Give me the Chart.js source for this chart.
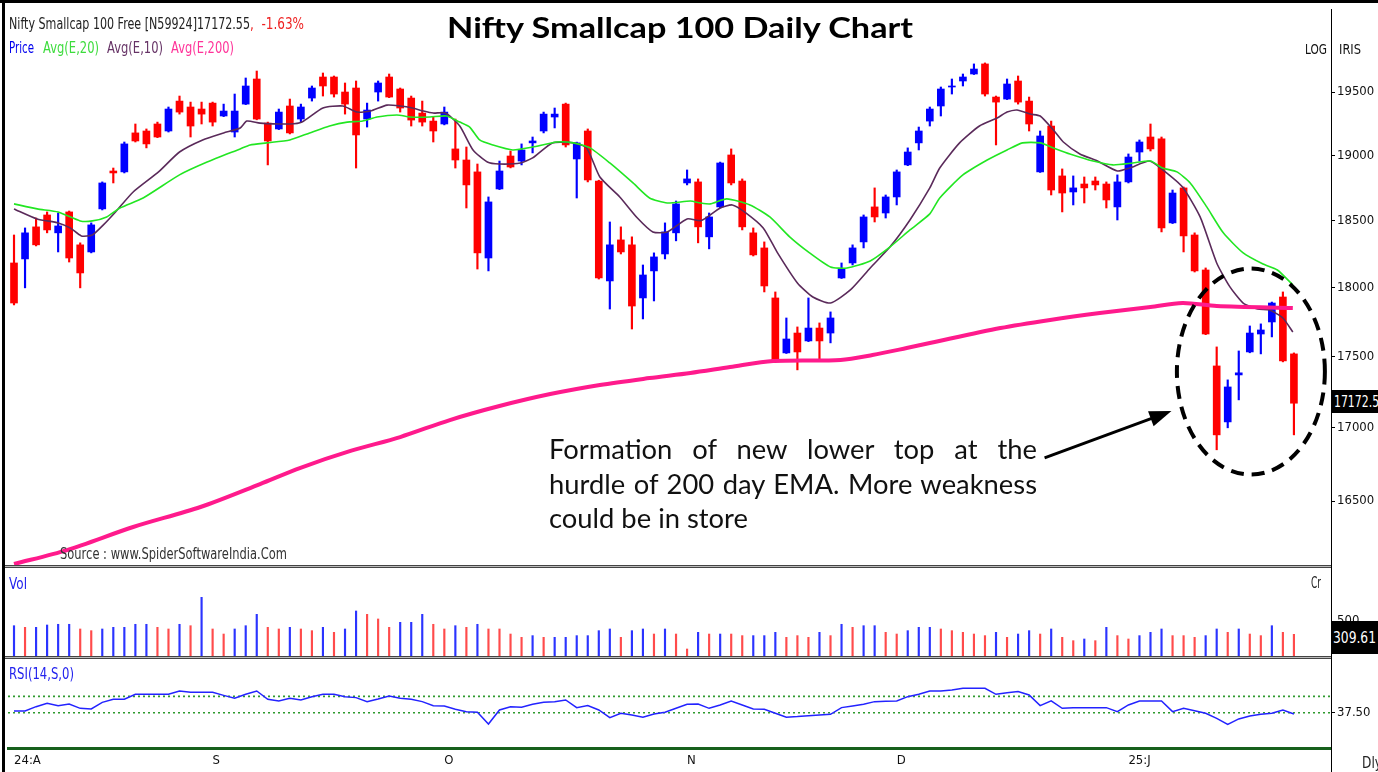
<!DOCTYPE html>
<html>
<head>
<meta charset="utf-8">
<title>Nifty Smallcap 100 Daily Chart</title>
<script src="https://cdn.jsdelivr.net/npm/chart.js@4.4.1/dist/chart.umd.min.js"></script>
<style>
    html, body { margin: 0; padding: 0; background: #fff; }
    body { width: 1378px; height: 772px; position: relative; overflow: hidden; font-family: 'DejaVu Sans', sans-serif; }
    .pane { position: absolute; left: 0; width: 1378px; }
    .txt { position: absolute; white-space: nowrap; line-height: 1; transform-origin: left top; }
    .rule { position: absolute; background: #000; }
    .sep { position: absolute; left: 5px; width: 1326px; height: 1px; border-top: 1px solid #444; border-bottom: 1px solid #444; background: #bbb; }
    .valbox { position: absolute; left: 1332px; width: 46px; background: #000; color: #fff; overflow: hidden; }
    .note { position: absolute; left: 549px; width: 488px; font-family: Lato, sans-serif; color: #111; white-space: nowrap; line-height: 1; }
    .just { text-align: justify; text-align-last: justify; white-space: normal; }
</style>
</head>
<body>

<div class="pane" style="top:0;height:566px"><canvas id="priceChart"></canvas></div>
<div class="pane" style="top:566px;height:93px"><canvas id="volChart"></canvas></div>
<div class="pane" style="top:659px;height:113px"><canvas id="rsiChart"></canvas></div>

<!-- frame -->
<div class="rule" style="left:0;top:0;width:1378px;height:3px"></div>
<div class="rule" style="left:2px;top:0;width:3px;height:772px"></div>
<div class="rule" style="left:1331px;top:9px;width:1px;height:763px"></div>
<div class="sep" style="top:565px"></div>
<div class="sep" style="top:656px"></div>

<!-- header -->
<div class="txt" data-w="241" style="left:9px;top:16px;font-size:16px;color:#222">Nifty Smallcap 100 Free [N59924]17172.55</div>
<div class="txt" data-w="54" style="left:250px;top:16px;font-size:16px;color:#ee2222">,&nbsp; -1.63%</div>
<div class="txt" data-w="25" style="left:9px;top:40px;font-size:16px;color:#0000ee">Price</div>
<div class="txt" data-w="56" style="left:43px;top:40px;font-size:16px;color:#3ddc3d">Avg(E,20)</div>
<div class="txt" data-w="56" style="left:107px;top:40px;font-size:16px;color:#663366">Avg(E,10)</div>
<div class="txt" data-w="63" style="left:171px;top:40px;font-size:16px;color:#ff3399">Avg(E,200)</div>
<div class="txt" data-w="466" style="left:447px;top:13px;font-size:28px;font-family:Lato,sans-serif;font-weight:700;color:#000">Nifty Smallcap 100 Daily Chart</div>
<div class="txt" data-w="22" style="left:1305px;top:42px;font-size:14px;color:#111">LOG</div>
<div class="txt" data-w="22" style="left:1339px;top:42px;font-size:14px;color:#111">IRIS</div>

<div class="txt" data-w="227" style="left:60px;top:547px;font-size:15px;color:#333">Source : www.SpiderSoftwareIndia.Com</div>
<div class="txt" data-w="18" style="left:9px;top:577px;font-size:15px;color:#2222ee">Vol</div>
<div class="txt" data-w="10" style="left:1311px;top:576px;font-size:15px;color:#222">Cr</div>
<div class="txt" data-w="65" style="left:9px;top:667px;font-size:15px;color:#2222ee">RSI(14,S,0)</div>
<div class="txt" data-w="20" style="left:1362px;top:756px;font-size:15px;color:#222">Dly</div>

<div class="valbox" style="top:390px;height:23px"><div class="txt" data-w="52" style="left:2px;top:4px;font-size:16px">17172.55</div></div>
<div class="valbox" style="top:621px;height:33px"><div class="txt" data-w="43" style="left:1px;top:9px;font-size:16px">309.61</div></div>

<!-- annotation -->
<div class="note just" id="note1">Formation of new lower top at the</div>
<div class="note just" id="note2">hurdle of 200 day EMA. More weakness</div>
<div class="note" id="note3">could be in store</div>

<script>
// ---- price candles (daily) ----
const open = [18185,18215,18455,18545,18410,18568,18320,18267,18591,18881,
    18874,19177,19192,19247,19192,19428,19381,19365,19412,19310,
    19184,19404,19604,19254,19208,19389,19286,19452,19620,19620,
    19500,19532,19286,19500,19620,19524,19452,19333,19270,19247,
    19052,18966,18874,18222,18743,18997,18958,19099,19192,19302,
    19404,18974,19192,18804,18052,18357,18320,17927,18126,18252,
    18410,18789,18797,18380,18606,19005,18804,18410,18297,17927,
    17529,17672,17615,17708,17672,18074,18185,18342,18606,18560,
    18682,18928,19099,19270,19389,19540,19588,19644,19725,19460,
    19444,19588,19428,18874,19231,18843,18720,18781,18804,18781,
    18606,18797,19028,19145,19130,18485,18751,18394,18133,17436,
    17042,17372,17536,17665,17752,17934,17522];
const high = [18394,18447,18522,18568,18560,18575,18335,18485,18797,18904,
    19106,19247,19208,19262,19381,19468,19420,19420,19420,19404,
    19484,19612,19668,19262,19365,19444,19404,19548,19652,19628,
    19572,19588,19412,19588,19644,19532,19468,19428,19302,19381,
    19286,19067,18935,18682,18958,19036,19091,19145,19341,19373,
    19412,19105,19208,18810,18492,18455,18380,18170,18260,18485,
    18651,18889,18820,18560,18950,19052,18820,18447,18342,17971,
    17781,17716,17927,17745,17825,18185,18320,18545,18751,18697,
    18889,19060,19223,19381,19540,19604,19644,19725,19733,19468,
    19604,19628,19460,19192,19270,18897,18843,18835,18835,18797,
    18851,19013,19122,19247,19145,18735,18758,18410,18148,17572,
    17337,17543,17723,17738,17897,17971,17529];
const low = [17876,18001,18312,18410,18267,18192,18001,18260,18583,18789,
    18866,19106,19060,19140,19184,19325,19145,19247,19231,19305,
    19145,19400,19280,18928,19203,19169,19262,19428,19468,19460,
    19325,18904,19223,19428,19455,19341,19231,19231,19106,19240,
    18904,18598,18140,18126,18738,18905,18928,19021,19177,19216,
    19067,18674,18797,18066,17846,18252,17701,17774,17905,18215,
    18350,18774,18335,18290,18598,18774,18432,18237,17971,17460,
    17525,17408,17610,17479,17601,18070,18170,18297,18492,18522,
    18621,18922,19044,19231,19310,19484,19548,19640,19468,19083,
    19440,19404,19192,18870,18697,18568,18621,18636,18735,18598,
    18507,18789,18958,19036,18417,18480,18267,18118,17660,16849,
    17001,17196,17530,17522,17644,17465,16952];
const close = [17890,18410,18320,18432,18462,18222,18111,18470,18789,18866,
    19091,19114,19091,19145,19365,19341,19231,19325,19262,19349,
    19349,19548,19286,19114,19341,19177,19381,19532,19548,19484,
    19404,19161,19357,19572,19460,19373,19278,19262,19192,19341,
    18966,18774,18260,18644,18881,18912,19044,19114,19325,19325,
    19083,19099,18812,18074,18320,18267,17868,18096,18230,18417,
    18629,18820,18455,18530,18943,18789,18455,18245,18015,17465,
    17629,17536,17708,17615,17781,18140,18297,18530,18530,18682,
    18874,19028,19192,19365,19524,19548,19620,19684,19484,19420,
    19564,19420,19247,19153,18735,18712,18751,18751,18774,18659,
    18797,18989,19106,19052,18447,18712,18387,18126,17665,16952,
    17287,17387,17672,17694,17890,17472,17172.55];

// ---- moving averages as [day index, value] ----
const ema10 = [[0,18591],[2.1,18515],[4,18485],[5.1,18447],[6.1,18387],[7.1,18394],[8.1,18470],[9.2,18568],
    [10.8,18720],[13.1,18874],[15,19028],[17.1,19122],[19,19177],[20.5,19216],[21.1,19270],[22.3,19254],
    [25,19247],[26.1,19262],[28,19373],[29.8,19389],[31.1,19341],[32.3,19349],[33.8,19396],[35,19389],
    [36.1,19373],[37.1,19349],[38,19333],[39.1,19333],[40.4,19231],[41.6,19044],[42.9,18950],[44,18935],
    [45.9,18943],[47,18982],[48.8,19099],[50.7,19099],[51.9,19060],[53.1,18835],[54.9,18682],[56.5,18522],
    [57.9,18417],[59.2,18417],[61,18515],[62.3,18503],[64,18598],[65.1,18621],[66.2,18568],[67.9,18447],
    [69.2,18260],[71,18037],[72.4,17934],[74,17890],[75.8,17986],[77.6,18148],[79.4,18305],[81.2,18507],
    [83,18751],[83.9,18904],[85.7,19099],[87.5,19231],[89.1,19294],[90,19341],[90.9,19357],[92.1,19325],
    [93,19310],[94.2,19200],[95.1,19106],[96.6,19013],[98.2,18958],[100,18881],[101.1,18904],[102.9,18958],
    [104,18897],[105.9,18758],[107.5,18530],[109,18185],[110.2,18008],[111.4,17890],[112.7,17846],
    [113.8,17839],[115,17781],[115.9,17679]];
const ema20 = [[0,18629],[2.1,18591],[4,18568],[6,18500],[7.1,18500],[8.4,18530],[9.6,18598],[11.7,18674],
    [15,18851],[17.5,18950],[20.5,19052],[21.4,19083],[22.9,19099],[25,19122],[26.8,19177],[28.6,19231],
    [30.2,19262],[31.6,19270],[32.9,19302],[34.7,19318],[35.9,19302],[37.7,19302],[39.2,19310],[40.4,19262],
    [41.3,19223],[42.2,19122],[43.4,19083],[45.2,19044],[47,19067],[49.2,19106],[50.7,19099],[52.2,19060],
    [54,18943],[56.1,18789],[57.6,18674],[59.2,18636],[61.3,18651],[62.2,18636],[63.1,18629],[64.6,18667],
    [66.7,18621],[68.5,18530],[70.3,18380],[72.1,18260],[74,18155],[75.5,18148],[77.6,18200],[79.4,18305],
    [81.2,18432],[83,18553],[83.9,18674],[86,18851],[88.2,18966],[90,19044],[91.4,19099],[93,19099],
    [94.2,19060],[95.7,19013],[97.8,18958],[99.6,18928],[101.4,18943],[103,18958],[104.1,18904],
    [105.4,18874],[106.6,18789],[108.1,18606],[109.6,18410],[111.4,18260],[113.2,18177],[114.5,18133],
    [115.9,18023]];
const ema200 = [[0,16081],[4.8,16173],[10.8,16326],[16.9,16460],[22.3,16615],[25.9,16724],[30.5,16841],
    [35,16937],[39.5,17055],[44,17153],[48.6,17237],[53.1,17301],[57.6,17350],[61.3,17386],[64.9,17428],
    [68.8,17471],[74.9,17479],[77.8,17514],[80.9,17564],[83,17600],[89.4,17708],[93.9,17767],[98.4,17817],
    [103,17861],[105.9,17890],[109,17868],[115.9,17853]];

// ---- volume (Cr) and direction flag (1 = blue, 0 = red) ----
const volume = [433,410,410,443,453,453,386,362,386,410,
    410,453,453,410,386,453,433,838,386,314,
    386,433,595,410,386,410,386,362,410,338,
    386,643,595,529,410,481,481,595,453,386,
    433,410,453,386,386,314,267,291,267,267,
    267,291,291,362,386,267,362,386,314,386,
    314,100,338,314,314,314,291,291,291,338,
    267,291,267,338,291,453,410,433,433,338,
    314,362,410,410,386,362,338,314,291,338,
    267,314,362,314,386,267,219,243,219,410,
    291,243,291,338,386,291,291,267,291,386,
    338,386,314,291,433,338,309.61];
const volUp = [1,0,1,1,1,1,0,0,1,1, 1,1,1,0,0,1,0,1,0,0, 1,1,1,0,0,1,0,0,1,0,
    1,1,0,0,0,1,1,1,0,0, 1,0,1,0,0,0,0,1,0,1, 1,1,1,1,1,0,1,1,0,1,
    0,0,1,0,1,0,0,1,1,1, 0,0,0,1,0,1,0,1,1,0, 0,1,1,1,0,0,0,0,0,1,
    0,1,1,0,1,0,0,1,0,1, 0,0,1,1,1,0,0,0,1,1, 0,1,0,0,1,0,0];

// ---- RSI(14) ----
const rsi = [39.5,39.5,44.4,48.3,45.6,47.5,42.5,41.8,49.4,52.9,
    52.9,58.6,58.6,58.6,58.6,62.4,60.9,60.9,60.9,57.4,
    54.0,58.6,62.4,52.9,51.0,54.0,52.1,55.9,58.6,58.6,
    55.9,54.8,50.2,53.2,56.7,54.0,52.9,50.2,45.6,45.2,
    41.4,38.7,37.9,24.5,40.6,44.4,43.7,47.1,49.4,50.2,
    52.1,43.3,45.6,40.6,31.8,36.8,34.9,32.2,36.0,37.9,
    42.5,47.1,47.5,42.5,46.4,51.0,46.4,41.8,41.4,36.8,
    32.2,33.0,34.1,34.9,35.6,43.3,45.2,47.1,50.2,50.6,
    51.0,55.9,58.6,62.4,62.4,63.5,65.5,65.5,65.5,58.6,
    60.5,61.7,57.9,45.6,51.0,42.5,43.3,43.3,43.3,43.3,
    38.7,46.4,51.0,51.0,51.0,38.7,42.5,39.8,36.8,31.0,
    24.1,30.3,33.7,35.6,36.8,40.6,36.0];
const rsiLevels = [56.25, 37.5];

// ---- axis ticks ----
const priceTicks = [16500, 17000, 17500, 18000, 18500, 19000, 19500];
const volTicks = [500];
const rsiTicks = [37.5];
const monthTickIdx = [0, 18, 39, 61, 80, 101];
const monthTickLabels = ['24:A', 'S', 'O', 'N', 'D', '25:J'];

// callout: centre of the dashed ring and the arrow, in [day index, price]
const ringAt = [112.1, 17396];
const arrowFrom = [93.4, 16793];
const arrowTo = [104.9, 17118];

// ---- layout constants ----
const X_MIN = -0.544, X_MAX = 119.36;
const AXIS_W = 47;
const UP = '#0000ff', DOWN = '#ff0000';
const tickFont = { family: "'DejaVu Sans Condensed', 'DejaVu Sans', sans-serif", size: 13 };

Chart.defaults.font.family = "'DejaVu Sans', sans-serif";

function candleColour(i) {
    return close[i] >= open[i] ? UP : DOWN;
}

// tick labels must not push the plot area in: drop the label padding
function noLabelPadding(s) {
    s.paddingTop = 0;
    s.paddingBottom = 0;
    s.paddingLeft = 0;
    s.paddingRight = 0;
}

function rightAxis(min, max, ticks, label, type) {
    return {
        type: type || 'linear',
        position: 'right',
        bounds: 'data',
        min: min,
        max: max,
        afterFit: s => { s.width = AXIS_W; noLabelPadding(s); },
        afterBuildTicks: s => { s.ticks = ticks.map(v => ({ value: v })); },
        ticks: { callback: label, font: tickFont, color: '#111', padding: 2, autoSkip: false },
        grid: { drawOnChartArea: false, tickLength: 4, color: '#000' },
        border: { display: false }
    };
}

function hiddenX() {
    return { type: 'linear', min: X_MIN, max: X_MAX, display: false, offset: false, bounds: 'data' };
}

const calloutPlugin = {
    id: 'callout',
    afterDatasetsDraw(chart) {
        const { ctx, scales: { x, y } } = chart;
        ctx.save();
        ctx.strokeStyle = '#000';
        ctx.fillStyle = '#000';

        // dashed ring round the last candles
        ctx.setLineDash([13, 8]);
        ctx.lineWidth = 4;
        ctx.beginPath();
        ctx.ellipse(x.getPixelForValue(ringAt[0]), y.getPixelForValue(ringAt[1]), 74, 103, 0, 0, Math.PI * 2);
        ctx.stroke();

        // arrow from the note to the ring
        const x1 = x.getPixelForValue(arrowFrom[0]), y1 = y.getPixelForValue(arrowFrom[1]);
        const x2 = x.getPixelForValue(arrowTo[0]), y2 = y.getPixelForValue(arrowTo[1]);
        const a = Math.atan2(y2 - y1, x2 - x1);
        const c = Math.cos(a), s = Math.sin(a);
        ctx.setLineDash([]);
        ctx.lineWidth = 3;
        ctx.beginPath();
        ctx.moveTo(x1, y1);
        ctx.lineTo(x2 - 16 * c, y2 - 16 * s);
        ctx.stroke();
        ctx.beginPath();
        ctx.moveTo(x2, y2);
        ctx.lineTo(x2 - 22 * c + 8 * s, y2 - 22 * s - 8 * c);
        ctx.lineTo(x2 - 22 * c - 8 * s, y2 - 22 * s + 8 * c);
        ctx.closePath();
        ctx.fill();
        ctx.restore();
    }
};

const baseOptions = {
    responsive: true,
    maintainAspectRatio: false,
    animation: false,
    events: [],
    plugins: { legend: { display: false }, tooltip: { enabled: false } }
};

// 1. Price panel
new Chart(document.getElementById('priceChart'), {
    type: 'bar',
    data: {
        datasets: [
            {
                type: 'line', label: 'Avg(E,200)', order: 0,
                data: ema200.map(([i, v]) => ({ x: i, y: v })),
                borderColor: '#ff1a8c', borderWidth: 4, pointRadius: 0, tension: 0.3
            },
            {
                type: 'line', label: 'Avg(E,20)', order: 0,
                data: ema20.map(([i, v]) => ({ x: i, y: v })),
                borderColor: '#22e622', borderWidth: 1.6, pointRadius: 0, tension: 0.2
            },
            {
                type: 'line', label: 'Avg(E,10)', order: 0,
                data: ema10.map(([i, v]) => ({ x: i, y: v })),
                borderColor: '#5a2a5a', borderWidth: 1.6, pointRadius: 0, tension: 0.2
            },
            {
                label: 'Body', order: 1, grouped: false,
                data: open.map((o, i) => ({ x: i, y: [o, close[i]] })),
                backgroundColor: c => candleColour(c.dataIndex),
                barThickness: 7, borderWidth: 0
            },
            {
                label: 'Wick', order: 2, grouped: false,
                data: low.map((l, i) => ({ x: i, y: [l, high[i]] })),
                backgroundColor: c => candleColour(c.dataIndex),
                barThickness: 1.5, borderWidth: 0
            }
        ]
    },
    options: {
        ...baseOptions,
        layout: { padding: { left: 8, top: 3, right: 0, bottom: 0 } },
        scales: {
            x: hiddenX(),
            y: rightAxis(16068, 20222, priceTicks, v => String(v), 'logarithmic')
        }
    },
    plugins: [calloutPlugin]
});

// 2. Volume panel
new Chart(document.getElementById('volChart'), {
    type: 'bar',
    data: {
        datasets: [{
            label: 'Vol', grouped: false,
            data: volume.map((v, i) => ({ x: i, y: v })),
            backgroundColor: c => volUp[c.dataIndex] ? 'rgba(20,30,255,0.9)' : 'rgba(255,30,30,0.8)',
            barThickness: 1.5, borderWidth: 0
        }]
    },
    options: {
        ...baseOptions,
        layout: { padding: { left: 8, top: 3, right: 0, bottom: 3 } },
        scales: {
            x: hiddenX(),
            y: rightAxis(0, 1243, volTicks, v => String(v))
        }
    }
});

// 3. RSI panel with the date axis
new Chart(document.getElementById('rsiChart'), {
    type: 'line',
    data: {
        datasets: [
            {
                label: 'RSI(14,S,0)',
                data: rsi.map((v, i) => ({ x: i, y: v })),
                borderColor: '#2323ff', borderWidth: 1.5, pointRadius: 0, tension: 0
            },
            ...rsiLevels.map(lvl => ({
                label: 'level ' + lvl,
                data: [{ x: X_MIN, y: lvl }, { x: X_MAX, y: lvl }],
                borderColor: '#2f9a2f', borderWidth: 1.6, borderDash: [2, 3], pointRadius: 0
            }))
        ]
    },
    options: {
        ...baseOptions,
        layout: { padding: { left: 8, top: 2, right: 0, bottom: 0 } },
        scales: {
            x: {
                type: 'linear', min: X_MIN, max: X_MAX, offset: false, bounds: 'data',
                afterFit: s => { s.height = 24; noLabelPadding(s); },
                afterBuildTicks: s => { s.ticks = monthTickIdx.map(v => ({ value: v })); },
                ticks: {
                    callback: v => monthTickLabels[monthTickIdx.indexOf(v)],
                    align: 'start', maxRotation: 0, autoSkip: false, padding: 5,
                    font: tickFont, color: '#111'
                },
                grid: { display: false, drawTicks: false },
                border: { display: true, color: '#17601c', width: 3, dash: [3, 2] }
            },
            y: rightAxis(-3.1, 96.9, rsiTicks, v => v.toFixed(2))
        }
    }
});

// squeeze overlay texts to the narrow face of the original
document.querySelectorAll('.txt[data-w]').forEach(el => {
    const natural = el.getBoundingClientRect().width;
    el.style.transform = `scaleX(${el.dataset.w / natural})`;
});

// annotation: size so that the short last line matches, then justify the others
const probe = document.createElement('canvas').getContext('2d');
probe.font = '24px Lato';
const noteSize = 24 * 199 / probe.measureText('could be in store').width;
const noteBaselines = [459, 494, 528];
['note1', 'note2', 'note3'].forEach((id, k) => {
    const el = document.getElementById(id);
    el.style.fontSize = noteSize + 'px';
    el.style.height = noteSize + 'px';
    el.style.top = (noteBaselines[k] - 0.887 * noteSize) + 'px';
});
</script>
</body>
</html>
